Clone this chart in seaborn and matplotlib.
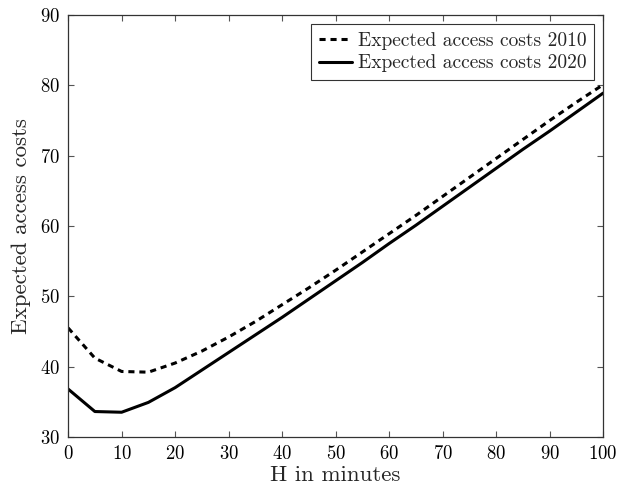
import matplotlib
matplotlib.use("Agg")
import matplotlib.pyplot as plt
import seaborn as sns
import pandas as pd

# values
H = [0, 5, 10, 15, 20, 25, 30, 35, 40, 45, 50, 55, 60, 65, 70, 75, 80, 85, 90, 95, 100]
costs_2010 = [45.5, 41.2, 39.3, 39.2, 40.5, 42.2, 44.2, 46.4, 48.8, 51.2, 53.7,
              56.3, 58.9, 61.5, 64.2, 66.9, 69.6, 72.3, 75.0, 77.6, 80.1]
costs_2020 = [36.8, 33.6, 33.5, 34.9, 37.0, 39.5, 42.0, 44.5, 47.0, 49.6, 52.2,
              54.8, 57.5, 60.1, 62.8, 65.5, 68.2, 70.9, 73.5, 76.2, 78.9]
labels = ["Expected access costs 2010", "Expected access costs 2020"]

df = pd.DataFrame({"H": H, labels[0]: costs_2010, labels[1]: costs_2020})

sns.set_style("ticks")
plt.rcParams["font.family"] = "serif"
plt.rcParams["font.serif"] = ["cmr10", "DejaVu Serif"]
plt.rcParams["mathtext.fontset"] = "cm"
plt.rcParams["axes.formatter.use_mathtext"] = True

fig = plt.figure(figsize=(6.25, 4.87), dpi=100)
ax = fig.add_axes([0.109, 0.103, 0.856, 0.866])

sns.lineplot(data=df, x="H", y=labels[0], ax=ax, color="black", lw=2.2,
             label=labels[0], linestyle=(0, (2.0, 1.6)))
sns.lineplot(data=df, x="H", y=labels[1], ax=ax, color="black", lw=2.2,
             label=labels[1])

ax.set_xlim(0, 100)
ax.set_ylim(30, 90)
ax.set_xticks(range(0, 101, 10))
ax.set_yticks(range(30, 91, 10))
ax.set_xlabel("H in minutes", fontsize=16.5, labelpad=2)
ax.set_ylabel("Expected access costs", fontsize=16.5, labelpad=6)
ax.tick_params(direction="in", length=4, width=0.8, colors="#555555",
               labelcolor="black", labelsize=13.5, pad=6, top=True, right=True)
for s in ax.spines.values():
    s.set_color("#333333")
    s.set_linewidth(0.9)

leg = ax.legend(loc="upper right", fontsize=14, frameon=True, fancybox=False,
                edgecolor="black", handlelength=1.7, handletextpad=0.3,
                borderpad=0.4, labelspacing=0.25, borderaxespad=0.45)
leg.get_frame().set_linewidth(0.8)

fig.savefig("out.png", dpi=100)
